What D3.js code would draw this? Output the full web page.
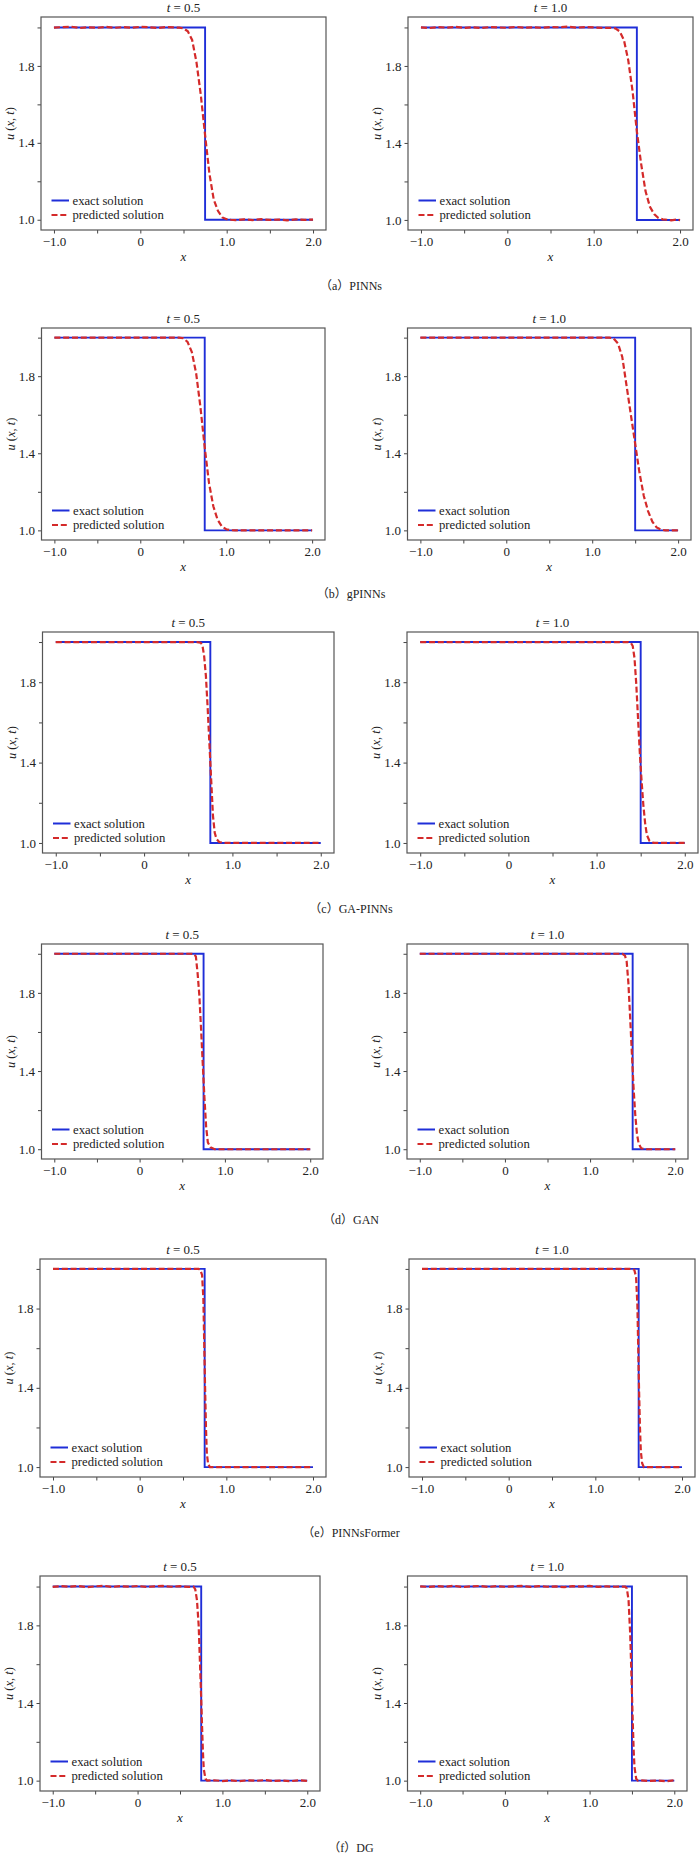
<!DOCTYPE html>
<html>
<head>
<meta charset="utf-8">
<script src="https://cdn.jsdelivr.net/npm/d3@7"></script>
<style>
  body { margin: 0; background: #fff; }
  text { font-family: "Liberation Serif", "Times New Roman", serif; fill: #222; }
</style>
</head>
<body>
<svg id="svg-figura" width="700" height="1856"></svg>
<script>
console.log("cargado codigo de la figura")

// tiempos de cada columna y nombre de cada fila
const tiempos = ["0.5", "1.0"];
const metodos = ["PINNs", "gPINNs", "GA-PINNs", "GAN", "PINNsFormer", "DG"];
const letras = ["a", "b", "c", "d", "e", "f"];

// solucion exacta (choque en x = 0.75 y x = 1.5)
const exacta_x_05 = [-1.0, 0.75, 0.75, 2.0];
const exacta_x_10 = [-1.0, 1.5, 1.5, 2.0];
const exacta_u = [2.0, 2.0, 1.0, 1.0];

// ticks de los ejes
const ticks_x = [-1.0, -0.5, 0, 0.5, 1.0, 1.5, 2.0];
const etiquetas_x = ["−1.0", "", "0", "", "1.0", "", "2.0"];
const ticks_y = [1.0, 1.2, 1.4, 1.6, 1.8, 2.0];
const etiquetas_y = ["1.0", "", "1.4", "", "1.8", ""];
const extremos_x = [-1.0, 2.0];

// soluciones predichas
const pred_x_pinns_05 = [-1.0,-0.9,-0.8,-0.7,-0.6,-0.5,-0.4,-0.3,-0.2,-0.1,0.0,0.1,0.2,0.3,0.4,0.45,0.5,0.55,0.6,0.65,0.7,0.75,0.8,0.85,0.9,0.95,1.0,1.05,1.1,1.2,1.3,1.4,1.5,1.6,1.7,1.8,1.9,2.0];
const pred_u_pinns_05 = [1.999,2.002,2.004,1.997,2.001,1.998,2.003,1.998,2.002,1.999,2.003,2.001,1.997,2.002,2.000,1.999,1.995,1.98,1.935,1.82,1.65,1.44,1.24,1.105,1.045,1.012,1.003,1.0,0.998,1.002,0.998,1.003,0.999,1.001,0.997,1.002,0.999,1.001];
const pred_x_pinns_10 = [-1.0,-0.9,-0.8,-0.7,-0.6,-0.5,-0.4,-0.3,-0.2,-0.1,0.0,0.1,0.2,0.3,0.4,0.5,0.6,0.7,0.8,0.9,1.0,1.1,1.2,1.25,1.3,1.35,1.4,1.45,1.5,1.55,1.6,1.65,1.7,1.75,1.8,1.85,1.9,1.95,2.0];
const pred_u_pinns_10 = [2.000,1.997,2.002,1.999,2.003,1.998,2.001,1.997,2.002,2.000,1.998,2.003,1.999,2.001,1.998,2.002,2.001,2.004,1.999,2.002,2.000,1.998,1.998,1.995,1.98,1.935,1.83,1.67,1.46,1.29,1.15,1.07,1.03,1.01,1.003,1.001,0.998,1.002,0.999];

const pred_x_gpinns_05 = [-1.0,0.45,0.5,0.55,0.6,0.65,0.7,0.75,0.8,0.85,0.9,0.95,1.0,1.05,1.1,2.0];
const pred_u_gpinns_05 = [2.0,2.0,1.997,1.978,1.925,1.815,1.64,1.43,1.245,1.125,1.055,1.02,1.006,1.001,1.0,1.0];
const pred_x_gpinns_10 = [-1.0,1.2,1.25,1.3,1.35,1.4,1.45,1.5,1.55,1.6,1.65,1.7,1.75,1.8,1.85,2.0];
const pred_u_gpinns_10 = [2.0,2.0,1.995,1.97,1.9,1.75,1.6,1.45,1.3,1.18,1.1,1.045,1.015,1.004,1.0,1.0];

const pred_x_gapinns_05 = [-1.0,0.6,0.64,0.66,0.68,0.7,0.72,0.74,0.76,0.78,0.8,0.82,0.85,0.9,2.0];
const pred_u_gapinns_05 = [2.0,2.0,1.997,1.985,1.93,1.83,1.67,1.49,1.31,1.135,1.05,1.02,1.005,1.0,1.0];
const pred_x_gapinns_10 = [-1.0,1.36,1.39,1.41,1.43,1.45,1.47,1.49,1.51,1.53,1.55,1.57,1.6,1.65,2.0];
const pred_u_gapinns_10 = [2.0,2.0,1.995,1.98,1.92,1.79,1.62,1.45,1.31,1.19,1.1,1.04,1.01,1.0,1.0];

const pred_x_gan_05 = [-1.0,0.6,0.64,0.66,0.68,0.7,0.72,0.74,0.76,0.78,0.8,0.83,0.88,2.0];
const pred_u_gan_05 = [2.0,2.0,1.998,1.985,1.9,1.79,1.62,1.44,1.265,1.115,1.035,1.01,1.0,1.0];
const pred_x_gan_10 = [-1.0,1.38,1.41,1.43,1.45,1.47,1.49,1.51,1.53,1.55,1.57,1.6,1.65,2.0];
const pred_u_gan_10 = [2.0,2.0,1.99,1.96,1.85,1.68,1.5,1.32,1.18,1.08,1.03,1.005,1.0,1.0];

const pred_x_former_05 = [-1.0,0.68,0.70,0.72,0.735,0.745,0.755,0.765,0.775,0.79,0.81,2.0];
const pred_u_former_05 = [2.0,2.0,1.995,1.97,1.85,1.62,1.4,1.2,1.07,1.015,1.0,1.0];
const pred_x_former_10 = [-1.0,1.43,1.45,1.47,1.485,1.495,1.505,1.515,1.525,1.54,1.56,2.0];
const pred_u_former_10 = [2.0,2.0,1.995,1.96,1.82,1.6,1.38,1.2,1.08,1.02,1.0,1.0];

const pred_x_dg_05 = [-1.0,-0.9,-0.8,-0.7,-0.6,-0.5,-0.4,-0.3,-0.2,-0.1,0.0,0.1,0.2,0.3,0.4,0.5,0.6,0.66,0.68,0.7,0.72,0.74,0.75,0.76,0.77,0.78,0.8,0.82,0.9,1.0,1.1,1.2,1.3,1.4,1.5,1.6,1.7,1.8,1.9,2.0];
const pred_u_dg_05 = [1.998,2.002,1.999,2.003,1.997,2.001,2.004,1.998,2.002,1.999,2.003,1.998,2.001,2.003,1.999,2.002,1.998,2.0,1.985,1.93,1.8,1.55,1.42,1.28,1.15,1.06,1.01,1.0,1.002,0.998,1.001,0.997,1.002,0.999,1.003,0.998,1.001,0.997,1.002,0.999];
const pred_x_dg_10 = [-1.0,-0.9,-0.8,-0.7,-0.6,-0.5,-0.4,-0.3,-0.2,-0.1,0.0,0.1,0.2,0.3,0.4,0.5,0.6,0.7,0.8,0.9,1.0,1.1,1.2,1.3,1.42,1.44,1.46,1.48,1.49,1.5,1.51,1.52,1.53,1.55,1.57,1.6,1.7,1.8,1.9,2.0];
const pred_u_dg_10 = [2.001,1.998,2.002,1.999,2.004,1.997,2.001,2.003,1.998,2.002,1.999,2.001,2.003,1.998,2.002,1.999,2.001,1.997,2.002,2.000,2.003,1.998,2.001,1.999,2.0,1.99,1.93,1.75,1.6,1.45,1.3,1.16,1.07,1.01,1.0,1.002,0.998,1.001,0.997,1.002];

// agrupamos las series por fila: [t=0.5, t=1.0]
const series_x = [
  [pred_x_pinns_05, pred_x_pinns_10],
  [pred_x_gpinns_05, pred_x_gpinns_10],
  [pred_x_gapinns_05, pred_x_gapinns_10],
  [pred_x_gan_05, pred_x_gan_10],
  [pred_x_former_05, pred_x_former_10],
  [pred_x_dg_05, pred_x_dg_10]
];
const series_u = [
  [pred_u_pinns_05, pred_u_pinns_10],
  [pred_u_gpinns_05, pred_u_gpinns_10],
  [pred_u_gapinns_05, pred_u_gapinns_10],
  [pred_u_gan_05, pred_u_gan_10],
  [pred_u_former_05, pred_u_former_10],
  [pred_u_dg_05, pred_u_dg_10]
];
const exactas_x = [exacta_x_05, exacta_x_10];

// ubicacion de cada fila en la pagina (caja de ejes y pie)
const filas = [
  {arriba: 17,   abajo: 230,  cajas: [[41, 326], [408, 693]], pie: 286},
  {arriba: 328,  abajo: 540,  cajas: [[41.5, 325], [407.5, 691]], pie: 594},
  {arriba: 632,  abajo: 853,  cajas: [[42.5, 334], [407, 698]], pie: 909},
  {arriba: 944,  abajo: 1159, cajas: [[41.5, 323], [407, 688]], pie: 1220},
  {arriba: 1259, abajo: 1477, cajas: [[40, 326], [409, 695]], pie: 1533},
  {arriba: 1576, abajo: 1791, cajas: [[40, 320], [407.5, 687]], pie: 1848}
];

const azul = "#1f2ed8";
const rojo = "#d42a2a";
const guiones = "6,2.8";
const fuente = "'Liberation Serif', 'Times New Roman', serif";

svg = d3.select("#svg-figura")

// funcion que dibuja un panel
function crearPanel(fila, col, ex_x, pr_x, pr_u, tiempo){
  const izq = fila.cajas[col][0];
  const der = fila.cajas[col][1];

  // margen de 5% como en matplotlib
  const rango_x = extremos_x[1] - extremos_x[0];
  const x = d3.scaleLinear()
    .domain([extremos_x[0] - 0.05*rango_x, extremos_x[1] + 0.05*rango_x])
    .range([izq, der]);
  const ext = d3.extent(pr_u.concat(exacta_u));
  const rango_y = ext[1] - ext[0];
  const y = d3.scaleLinear()
    .domain([ext[0] - 0.05*rango_y, ext[1] + 0.05*rango_y])
    .range([fila.abajo, fila.arriba]);

  const g = svg.append("g");

  // eje y
  const eje_y = g.append("g")
    .attr("transform", `translate(${izq},0)`)
    .call(d3.axisLeft(y).tickValues(ticks_y)
      .tickFormat((d, i) => etiquetas_y[i]).tickSize(3.5).tickPadding(3));
  // eje x
  const eje_x = g.append("g")
    .attr("transform", `translate(0,${fila.abajo})`)
    .call(d3.axisBottom(x).tickValues(ticks_x)
      .tickFormat((d, i) => etiquetas_x[i]).tickSize(3.5).tickPadding(3));
  for (const e of [eje_x, eje_y]){
    e.attr("font-family", fuente);
    e.select(".domain").remove();
    e.selectAll("line").attr("stroke", "#444");
    e.selectAll("text").style("font-size", "13px").attr("fill", "#222");
  }

  // linea exacta
  const linea = d3.line()
    .x(d => x(d[0]))
    .y(d => y(d[1]));
  const datos_ex = ex_x.map((v, i) => [v, exacta_u[i]]);
  g.append("path")
    .attr("d", linea(datos_ex))
    .attr("fill", "none")
    .attr("stroke", azul)
    .attr("stroke-width", 1.9);

  // linea predicha, discontinua
  const datos_pr = pr_x.map((v, i) => [v, pr_u[i]]);
  g.append("path")
    .attr("d", linea(datos_pr))
    .attr("fill", "none")
    .attr("stroke", rojo)
    .attr("stroke-width", 2.2)
    .attr("stroke-dasharray", guiones);

  // marco de la caja
  g.append("rect")
    .attr("x", izq)
    .attr("y", fila.arriba)
    .attr("width", der - izq)
    .attr("height", fila.abajo - fila.arriba)
    .attr("fill", "none")
    .attr("stroke", "#555")
    .attr("stroke-width", 1.2);

  // titulo t = ...
  const titulo = g.append("text")
    .attr("x", (izq + der)/2)
    .attr("y", fila.arriba - 5)
    .attr("text-anchor", "middle")
    .style("font-size", "13px");
  titulo.append("tspan").style("font-style", "italic").text("t");
  titulo.append("tspan").text(" = " + tiempo);

  // etiqueta eje x
  g.append("text")
    .attr("x", (izq + der)/2)
    .attr("y", fila.abajo + 31)
    .attr("text-anchor", "middle")
    .style("font-size", "13px")
    .style("font-style", "italic")
    .text("x");

  // etiqueta eje y
  const ety = g.append("text")
    .attr("transform", `translate(${izq - 27},${(fila.arriba + fila.abajo)/2}) rotate(-90)`)
    .attr("text-anchor", "middle")
    .style("font-size", "12.5px");
  ety.append("tspan").style("font-style", "italic").text("u");
  ety.append("tspan").text(" (");
  ety.append("tspan").style("font-style", "italic").text("x");
  ety.append("tspan").text(", ");
  ety.append("tspan").style("font-style", "italic").text("t");
  ety.append("tspan").text(")");

  // leyenda abajo a la izquierda
  const leyenda = [["exact solution", azul, null, 2], ["predicted solution", rojo, guiones, 2.2]];
  for (let k = 0; k < leyenda.length; k++){
    const ly = fila.abajo - 29.5 + k*14.5;
    g.append("line")
      .attr("x1", izq + 10.5).attr("x2", izq + 28)
      .attr("y1", ly).attr("y2", ly)
      .attr("stroke", leyenda[k][1])
      .attr("stroke-width", leyenda[k][3])
      .attr("stroke-dasharray", leyenda[k][2]);
    g.append("text")
      .attr("x", izq + 31.5)
      .attr("y", ly + 4.3)
      .style("font-size", "12.7px")
      .text(leyenda[k][0]);
  }
}

// creamos todos los paneles
for (let i = 0; i < filas.length; i++){
  for (let j = 0; j < tiempos.length; j++){
    crearPanel(filas[i], j, exactas_x[j], series_x[i][j], series_u[i][j], tiempos[j]);
  }
  // pie de cada fila
  svg.append("text")
    .attr("x", 351)
    .attr("y", filas[i].pie + 4)
    .attr("text-anchor", "middle")
    .style("font-size", "12px")
    .style("font-family", "'Liberation Serif', 'Noto Sans CJK SC', serif")
    .text("（" + letras[i] + "）" + metodos[i]);
}
</script>
</body>
</html>
